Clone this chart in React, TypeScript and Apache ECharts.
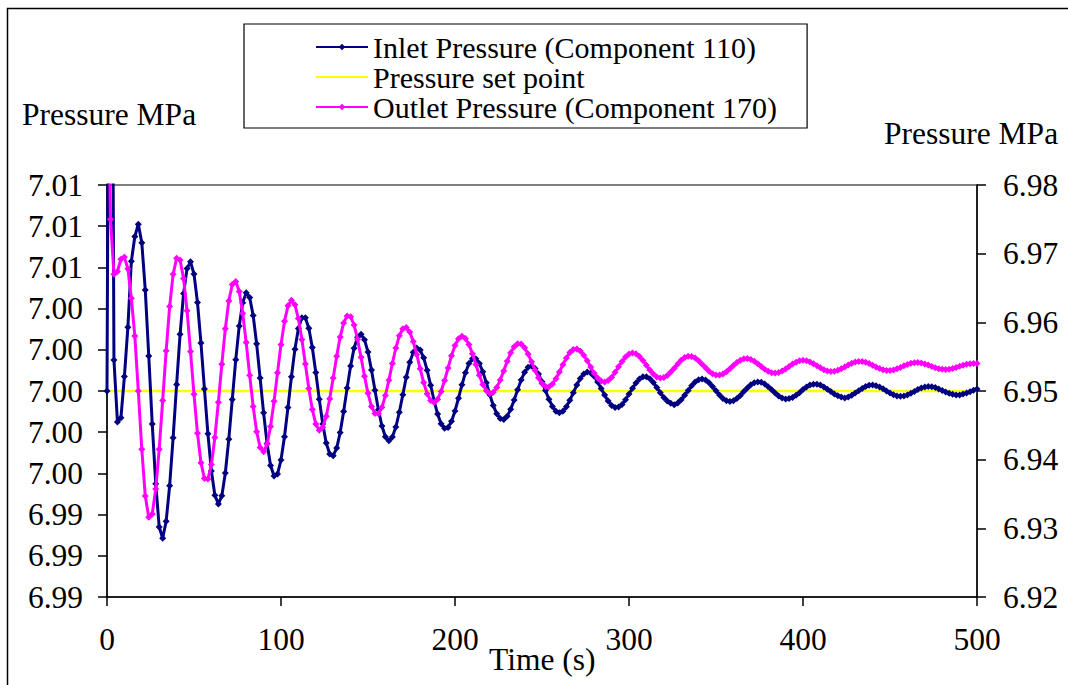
import React, { useEffect, useRef } from "react";
import * as echarts from "echarts";

// Sampling step of the recorded series (seconds)
const TIME_STEP_S = 2;

// Inlet Pressure (Component 110), MPa, left axis, t = 0, 2, 4 ... 500 s
const INLET_PRESSURE = [
  7.00000, 7.04000, 7.00150, 6.99850, 6.99870, 7.00070, 7.00310, 7.00630, 7.00750, 7.00810,
  7.00720, 7.00490, 7.00170, 6.99840, 6.99550, 6.99340, 6.99285, 6.99368, 6.99540, 6.99773,
  7.00031, 7.00275, 7.00473, 7.00595, 7.00627, 7.00568, 7.00430, 7.00233, 7.00010, 6.99792,
  6.99612, 6.99494, 6.99452, 6.99491, 6.99602, 6.99766, 6.99959, 7.00152, 7.00316, 7.00429,
  7.00477, 7.00454, 7.00367, 7.00229, 7.00063, 6.99894, 6.99745, 6.99638, 6.99587, 6.99597,
  6.99665, 6.99778, 6.99920, 7.00069, 7.00203, 7.00303, 7.00356, 7.00356, 7.00305, 7.00211,
  7.00090, 6.99960, 6.99840, 6.99747, 6.99694, 6.99686, 6.99723, 6.99798, 6.99900, 7.00014,
  7.00121, 7.00208, 7.00261, 7.00275, 7.00249, 7.00189, 7.00102, 7.00004, 6.99909, 6.99830,
  6.99778, 6.99759, 6.99777, 6.99825, 6.99897, 6.99982, 7.00067, 7.00139, 7.00188, 7.00209,
  7.00199, 7.00161, 7.00101, 7.00028, 6.99953, 6.99888, 6.99841, 6.99819, 6.99823, 6.99853,
  6.99903, 6.99965, 7.00030, 7.00089, 7.00133, 7.00156, 7.00156, 7.00134, 7.00093, 7.00040,
  6.99982, 6.99930, 6.99889, 6.99866, 6.99862, 6.99878, 6.99911, 6.99956, 7.00006, 7.00053,
  7.00091, 7.00115, 7.00121, 7.00109, 7.00083, 7.00045, 7.00002, 6.99960, 6.99925, 6.99902,
  6.99894, 6.99902, 6.99923, 6.99955, 6.99992, 7.00029, 7.00061, 7.00083, 7.00092, 7.00087,
  7.00071, 7.00044, 7.00012, 6.99980, 6.99951, 6.99930, 6.99920, 6.99922, 6.99935, 6.99957,
  6.99985, 7.00013, 7.00039, 7.00058, 7.00069, 7.00069, 7.00059, 7.00041, 7.00017, 6.99992,
  6.99969, 6.99951, 6.99941, 6.99933, 6.99942, 6.99957, 6.99979, 7.00003, 7.00025, 7.00044,
  7.00055, 7.00058, 7.00053, 7.00040, 7.00022, 7.00001, 6.99980, 6.99964, 6.99953, 6.99949,
  6.99953, 6.99963, 6.99978, 6.99997, 7.00014, 7.00030, 7.00040, 7.00044, 7.00042, 7.00034,
  7.00021, 7.00006, 6.99990, 6.99976, 6.99966, 6.99961, 6.99963, 6.99969, 6.99979, 6.99992,
  7.00007, 7.00019, 7.00029, 7.00033, 7.00033, 7.00029, 7.00020, 7.00009, 6.99997, 6.99985,
  6.99977, 6.99971, 6.99966, 6.99971, 6.99979, 6.99990, 7.00001, 7.00012, 7.00022, 7.00028,
  7.00029, 7.00026, 7.00020, 7.00011, 7.00000, 6.99990, 6.99982, 6.99976, 6.99975, 6.99976,
  6.99981, 6.99989, 6.99998, 7.00007, 7.00015, 7.00020, 7.00022, 7.00021, 7.00017, 7.00010,
  7.00002, 6.99995, 6.99989, 6.99984, 6.99981, 6.99981, 6.99985, 6.99990, 6.99996, 7.00004,
  7.00010,
];

// Outlet Pressure (Component 170), MPa, right axis, t = 0, 2, 4 ... 500 s
const OUTLET_PRESSURE = [
  7.01000, 6.97500, 6.96700, 6.96740, 6.96920, 6.96950, 6.96780, 6.96350, 6.95800, 6.95000,
  6.94150, 6.93470, 6.93160, 6.93209, 6.93574, 6.94153, 6.94860, 6.95587, 6.96229, 6.96699,
  6.96933, 6.96909, 6.96640, 6.96170, 6.95577, 6.94951, 6.94384, 6.93956, 6.93725, 6.93718,
  6.93929, 6.94323, 6.94836, 6.95391, 6.95907, 6.96312, 6.96551, 6.96596, 6.96448, 6.96133,
  6.95705, 6.95229, 6.94775, 6.94408, 6.94179, 6.94117, 6.94226, 6.94483, 6.94849, 6.95267,
  6.95675, 6.96014, 6.96240, 6.96322, 6.96255, 6.96055, 6.95750, 6.95394, 6.95037, 6.94731,
  6.94520, 6.94429, 6.94471, 6.94632, 6.94887, 6.95189, 6.95506, 6.95786, 6.95991, 6.96093,
  6.96081, 6.95961, 6.95754, 6.95492, 6.95216, 6.94966, 6.94776, 6.94674, 6.94670, 6.94762,
  6.94934, 6.95158, 6.95400, 6.95626, 6.95804, 6.95907, 6.95926, 6.95861, 6.95721, 6.95533,
  6.95323, 6.95123, 6.94961, 6.94860, 6.94832, 6.94880, 6.94992, 6.95152, 6.95335, 6.95514,
  6.95662, 6.95760, 6.95796, 6.95766, 6.95678, 6.95544, 6.95387, 6.95230, 6.95096, 6.95002,
  6.94962, 6.94980, 6.95050, 6.95162, 6.95293, 6.95433, 6.95556, 6.95645, 6.95689, 6.95684,
  6.95631, 6.95540, 6.95425, 6.95303, 6.95194, 6.95111, 6.95065, 6.95063, 6.95103, 6.95178,
  6.95277, 6.95383, 6.95482, 6.95559, 6.95605, 6.95613, 6.95584, 6.95522, 6.95440, 6.95348,
  6.95260, 6.95189, 6.95144, 6.95132, 6.95152, 6.95201, 6.95272, 6.95353, 6.95431, 6.95496,
  6.95539, 6.95554, 6.95541, 6.95502, 6.95443, 6.95374, 6.95305, 6.95246, 6.95205, 6.95188,
  6.95196, 6.95227, 6.95276, 6.95333, 6.95394, 6.95448, 6.95487, 6.95507, 6.95504, 6.95481,
  6.95442, 6.95391, 6.95338, 6.95289, 6.95253, 6.95233, 6.95232, 6.95249, 6.95282, 6.95325,
  6.95372, 6.95415, 6.95449, 6.95469, 6.95473, 6.95460, 6.95433, 6.95397, 6.95356, 6.95317,
  6.95286, 6.95267, 6.95261, 6.95270, 6.95292, 6.95322, 6.95358, 6.95392, 6.95420, 6.95439,
  6.95446, 6.95440, 6.95423, 6.95397, 6.95367, 6.95337, 6.95311, 6.95293, 6.95285, 6.95288,
  6.95302, 6.95323, 6.95348, 6.95377, 6.95403, 6.95422, 6.95431, 6.95430, 6.95419, 6.95399,
  6.95375, 6.95349, 6.95326, 6.95308, 6.95299, 6.95298, 6.95307, 6.95323, 6.95343, 6.95366,
  6.95387, 6.95403, 6.95413, 6.95414, 6.95408, 6.95395, 6.95378, 6.95358, 6.95339, 6.95324,
  6.95315, 6.95312, 6.95317, 6.95327, 6.95342, 6.95359, 6.95375, 6.95389, 6.95398, 6.95402,
  6.95399,
];

// Pressure set point, MPa (left axis)
const SET_POINT = 7.0;

const SERIES_NAMES = [
  "Inlet Pressure (Component 110)",
  "Pressure set point",
  "Outlet Pressure (Component 170)",
];

const LEFT_AXIS_RANGE = [6.99, 7.01, 0.002];
const RIGHT_AXIS_RANGE = [6.92, 6.98, 0.01];
const X_AXIS_RANGE = [0, 500, 100];

const AXIS_TITLES = ["Pressure MPa", "Pressure MPa", "Time (s)"];

const FONT = "'Liberation Serif', 'Times New Roman', serif";
const FS = 31.5;
const LEGEND_FS = 30;

export default function App() {
  const ref = useRef<HTMLDivElement>(null);

  useEffect(() => {
    if (!ref.current) return;
    const chart = echarts.init(ref.current, null, { renderer: "svg" });
    const times = INLET_PRESSURE.map((_, i) => i * TIME_STEP_S);

    const labelStyle = { fontFamily: FONT, fontSize: FS, color: "#000" };
    const axisLine = { show: true, onZero: false, lineStyle: { color: "#000", width: 1.5 } };
    const axisTick = { show: true, inside: false, length: 9, lineStyle: { color: "#000", width: 1.5 } };

    chart.setOption({
      animation: false,
      backgroundColor: "#fff",
      tooltip: { show: false },
      grid: {
        left: 107,
        right: 91,
        top: 185,
        bottom: 88,
        show: true,
        borderColor: "#808080",
        borderWidth: 2,
        backgroundColor: "transparent",
      },
      legend: {
        data: [
          { name: SERIES_NAMES[0] },
          { name: SERIES_NAMES[1], itemStyle: { opacity: 0 } },
          { name: SERIES_NAMES[2] },
        ],
        orient: "vertical",
        left: 244,
        top: 24,
        padding: [8, 30, 6, 71],
        itemGap: 0,
        itemWidth: 52,
        itemHeight: 8,
        borderColor: "#000",
        borderWidth: 1.2,
        backgroundColor: "#fff",
        selectedMode: false,
        textStyle: { fontFamily: FONT, fontSize: LEGEND_FS, color: "#000" },
      },
      xAxis: {
        type: "value",
        min: X_AXIS_RANGE[0],
        max: X_AXIS_RANGE[1],
        interval: X_AXIS_RANGE[2],
        axisLine,
        axisTick,
        splitLine: { show: false },
        axisLabel: { ...labelStyle, margin: 26 },
      },
      yAxis: [
        {
          type: "value",
          position: "left",
          min: LEFT_AXIS_RANGE[0],
          max: LEFT_AXIS_RANGE[1],
          interval: LEFT_AXIS_RANGE[2],
          axisLine,
          axisTick,
          splitLine: { show: false },
          axisLabel: { ...labelStyle, margin: 24, formatter: (v: number) => v.toFixed(2) },
        },
        {
          type: "value",
          position: "right",
          min: RIGHT_AXIS_RANGE[0],
          max: RIGHT_AXIS_RANGE[1],
          interval: RIGHT_AXIS_RANGE[2],
          axisLine,
          axisTick,
          splitLine: { show: false },
          axisLabel: { ...labelStyle, margin: 26, formatter: (v: number) => v.toFixed(2) },
        },
      ],
      series: [
        {
          name: SERIES_NAMES[0],
          type: "line",
          yAxisIndex: 0,
          data: times.map((t, i) => [t, INLET_PRESSURE[i]]),
          symbol: "diamond",
          symbolSize: 7,
          showSymbol: true,
          clip: true,
          lineStyle: { color: "#000080", width: 3 },
          itemStyle: { color: "#000080" },
          z: 3,
        },
        {
          name: SERIES_NAMES[1],
          type: "line",
          yAxisIndex: 0,
          data: times.map((t) => [t, SET_POINT]),
          symbol: "none",
          clip: true,
          lineStyle: { color: "#FFFF00", width: 2.5 },
          itemStyle: { color: "#FFFF00" },
          z: 2,
        },
        {
          name: SERIES_NAMES[2],
          type: "line",
          yAxisIndex: 1,
          data: times.map((t, i) => [t, OUTLET_PRESSURE[i]]),
          symbol: "diamond",
          symbolSize: 7,
          showSymbol: true,
          clip: true,
          lineStyle: { color: "#FF00FF", width: 3 },
          itemStyle: { color: "#FF00FF" },
          z: 4,
        },
      ],
      graphic: [
        {
          type: "rect",
          silent: true,
          z: -10,
          shape: { x: 7.5, y: 8.5, width: 1200, height: 800 },
          style: { fill: "none", stroke: "#000", lineWidth: 1.5 },
        },
        {
          type: "text",
          silent: true,
          left: 22,
          top: 98,
          style: { text: AXIS_TITLES[0], font: `${FS}px ${FONT}`, fill: "#000" },
        },
        {
          type: "text",
          silent: true,
          left: 884,
          top: 117,
          style: { text: AXIS_TITLES[1], font: `${FS}px ${FONT}`, fill: "#000" },
        },
        {
          type: "text",
          silent: true,
          left: 489,
          top: 643,
          style: { text: AXIS_TITLES[2], font: `${FS}px ${FONT}`, fill: "#000" },
        },
      ],
    });

    return () => chart.dispose();
  }, []);

  return (
    <div style={{ position: "fixed", left: 0, top: 0, width: 1068, height: 685, background: "#fff", overflow: "hidden" }}>
      <div ref={ref} style={{ width: 1068, height: 685 }} />
    </div>
  );
}
